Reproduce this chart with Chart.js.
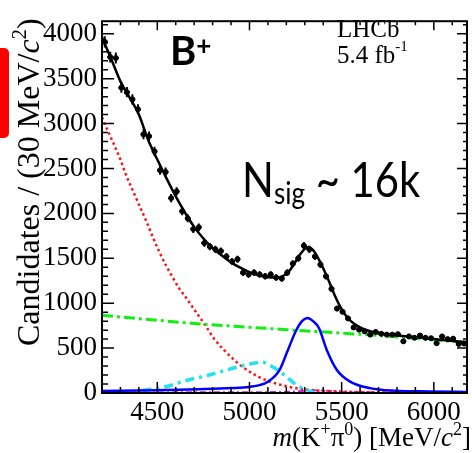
<!DOCTYPE html>
<html>
<head>
<meta charset="utf-8">
<script src="https://cdn.jsdelivr.net/npm/chart.js@4.4.1/dist/chart.umd.min.js"></script>
<style>
    html, body { margin: 0; padding: 0; background: #fff; }
    #wrap { position: relative; width: 472px; height: 453px; overflow: hidden; }
    #redTab { position: absolute; left: -6px; top: 48px; width: 15px; height: 90px; background: #ff0000; border-radius: 5px; }
</style>
</head>
<body>
<div id="wrap">
    <canvas id="massChart" width="472" height="453"></canvas>
    <div id="redTab"></div>
</div>
<script>
// m(K+ pi0) spectrum, 30 MeV bins
const binCenters = [4215, 4245, 4275, 4305, 4335, 4365, 4395, 4425, 4455, 4485,
    4515, 4545, 4575, 4605, 4635, 4665, 4695, 4725, 4755, 4785,
    4815, 4845, 4875, 4905, 4935, 4965, 4995, 5025, 5055, 5085,
    5115, 5145, 5175, 5205, 5235, 5265, 5295, 5325, 5355, 5385,
    5415, 5445, 5475, 5505, 5535, 5565, 5595, 5625, 5655, 5685,
    5715, 5745, 5775, 5805, 5835, 5865, 5895, 5925, 5955, 5985,
    6015, 6045, 6075, 6105, 6135, 6165];
const counts = [3910, 3740, 3730, 3400, 3350, 3270, 3160, 2880, 2860, 2690,
    2480, 2460, 2170, 2245, 2025, 1945, 1825, 1845, 1670, 1630,
    1600, 1580, 1520, 1465, 1490, 1340, 1320, 1340, 1320, 1300,
    1320, 1285, 1275, 1340, 1440, 1500, 1640, 1600, 1520, 1430,
    1300, 1160, 940, 905, 830, 730, 705, 687, 650, 680,
    660, 650, 650, 655, 575, 630, 615, 640, 615, 610,
    555, 630, 600, 605, 545, 550];
const countErrors = [63, 61, 61, 58, 58, 57, 56, 54, 53, 52,
    50, 50, 47, 47, 45, 44, 43, 43, 41, 40,
    40, 40, 39, 38, 39, 37, 36, 37, 36, 36,
    36, 36, 36, 37, 38, 39, 40, 40, 39, 38,
    36, 34, 31, 30, 29, 27, 27, 26, 25, 26,
    26, 25, 25, 26, 24, 25, 25, 25, 25, 25,
    24, 25, 24, 25, 23, 23];
const binHalfWidth = 15;

const xTickValues = [4500, 5000, 5500, 6000];
const yTickValues = [0, 500, 1000, 1500, 2000, 2500, 3000, 3500, 4000];

// fit components
const fitMass = [4200, 4250, 4300, 4350, 4400, 4450, 4500, 4550, 4600, 4650,
    4700, 4750, 4800, 4850, 4900, 4950, 5000, 5050, 5100, 5150,
    5180, 5210, 5240, 5270, 5300, 5320, 5345, 5370, 5400, 5430,
    5460, 5490, 5520, 5550, 5600, 5650, 5700, 5800, 5900, 6000,
    6100, 6180];
const fitTotal = [3960, 3720, 3470, 3290, 3100, 2820, 2600, 2390, 2190, 2010,
    1850, 1720, 1615, 1530, 1455, 1395, 1345, 1310, 1290, 1285,
    1300, 1345, 1430, 1530, 1605, 1625, 1590, 1510, 1390, 1250,
    1100, 970, 870, 800, 730, 690, 665, 640, 620, 600,
    580, 565];

const partRecoMass = [4200, 4225, 4260, 4300, 4330, 4370, 4400, 4440, 4475, 4510,
    4550, 4580, 4620, 4660, 4710, 4760, 4810, 4890, 4960, 5050,
    5140, 5225, 5315, 5440, 5600, 5800, 6000, 6180];
const partRecoVals = [3070, 2950, 2790, 2600, 2430, 2240, 2100, 1915, 1740, 1575,
    1410, 1300, 1160, 1050, 900, 755, 600, 420, 295, 180,
    108, 65, 36, 20, 10, 5, 3, 2];

const combMass = [4200, 4700, 5200, 5700, 6180];
const combVals = [865, 775, 705, 640, 562];

const cyanMass = [4420, 4550, 4650, 4780, 4900, 5010, 5065, 5127, 5190, 5243, 5296, 5350];
const cyanVals = [30, 72, 135, 200, 270, 326, 343, 290, 200, 108, 43, 5];

const signalMass = [4200, 4500, 4725, 4900, 5000, 5060, 5100, 5162, 5207, 5251,
    5285, 5314, 5345, 5377, 5421, 5475, 5546, 5653, 5796, 5973, 6180];
const signalVals = [22, 32, 43, 55, 68, 90, 126, 253, 470, 687,
    800, 835, 800, 723, 470, 253, 126, 54, 25, 17, 12];

const magMass = [4200, 4800, 5200, 5280, 5340, 5420, 5520, 5700, 6180];
const magVals = [5, 8, 12, 22, 30, 25, 12, 8, 5];

const SERIF = '"Liberation Serif", "Times New Roman", serif';
const SANS = 'Lato, "Open Sans", sans-serif';

function toPoints(xs, ys) {
    return xs.map((x, i) => ({ x: x, y: ys[i] }));
}

function curve(xs, ys, color, width, dash) {
    return {
        type: 'line',
        data: toPoints(xs, ys),
        borderColor: color,
        borderWidth: width,
        borderDash: dash || [],
        pointRadius: 0,
        fill: false,
        cubicInterpolationMode: 'monotone'
    };
}

// draw text made of several runs: [text, font, dy]; sx squeezes horizontally
function drawRuns(ctx, runs, x, y, align, sx) {
    sx = sx || 1;
    let total = 0;
    runs.forEach(r => { ctx.font = r[1]; total += ctx.measureText(r[0]).width; });
    ctx.save();
    ctx.translate(align === 'right' ? x - total * sx : x, y);
    ctx.scale(sx, 1);
    let cx = 0;
    runs.forEach(r => {
        ctx.font = r[1];
        ctx.fillText(r[0], cx, r[2] || 0);
        cx += ctx.measureText(r[0]).width;
    });
    ctx.restore();
}

// error bars for the data points
const errorBars = {
    id: 'errorBars',
    afterDatasetsDraw(chart) {
        const ctx = chart.ctx, xs = chart.scales.x, ys = chart.scales.y;
        ctx.save();
        ctx.strokeStyle = '#000';
        ctx.lineWidth = 2;
        binCenters.forEach((m, i) => {
            const px = xs.getPixelForValue(m), py = ys.getPixelForValue(counts[i]);
            ctx.beginPath();
            ctx.moveTo(px, ys.getPixelForValue(counts[i] - countErrors[i]));
            ctx.lineTo(px, ys.getPixelForValue(counts[i] + countErrors[i]));
            ctx.moveTo(xs.getPixelForValue(m - binHalfWidth), py);
            ctx.lineTo(xs.getPixelForValue(m + binHalfWidth), py);
            ctx.stroke();
        });
        ctx.restore();
    }
};

// ROOT style frame with inward ticks on all sides
const frameTicks = {
    id: 'frameTicks',
    afterDatasetsDraw(chart) {
        const ctx = chart.ctx, a = chart.chartArea, xs = chart.scales.x, ys = chart.scales.y;
        ctx.save();
        ctx.strokeStyle = '#000';
        ctx.lineWidth = 2;
        ctx.strokeRect(a.left, a.top, a.right - a.left, a.bottom - a.top);
        ctx.lineWidth = 1.5;
        ctx.beginPath();
        for (let v = 4300; v < 6180; v += 100) {
            const len = v % 500 === 0 ? 11 : 6;
            const px = xs.getPixelForValue(v);
            ctx.moveTo(px, a.bottom); ctx.lineTo(px, a.bottom - len);
            ctx.moveTo(px, a.top); ctx.lineTo(px, a.top + len - 2);
        }
        for (let v = 100; v < 4140; v += 100) {
            const len = v % 500 === 0 ? 12 : 6;
            const py = ys.getPixelForValue(v);
            ctx.moveTo(a.left, py); ctx.lineTo(a.left + len, py);
            ctx.moveTo(a.right, py); ctx.lineTo(a.right - len + 2, py);
        }
        ctx.stroke();
        ctx.restore();
    }
};

const annotations = {
    id: 'annotations',
    afterDraw(chart) {
        const ctx = chart.ctx;
        ctx.save();
        ctx.fillStyle = '#000';
        ctx.textBaseline = 'alphabetic';

        // axis titles
        drawRuns(ctx, [
            ['m', 'italic 27px ' + SERIF], ['(K', '27px ' + SERIF], ['+', '18px ' + SERIF, -11],
            ['\u03c0', '27px ' + SERIF], ['0', '18px ' + SERIF, -11], [') [MeV/', '27px ' + SERIF],
            ['c', 'italic 27px ' + SERIF], ['2', '18px ' + SERIF, -11], [']', '27px ' + SERIF]
        ], 471, 446, 'right');

        ctx.save();
        ctx.translate(39, 346);
        ctx.rotate(-Math.PI / 2);
        drawRuns(ctx, [
            ['Candidates / (30 MeV/', '32px ' + SERIF], ['c', 'italic 32px ' + SERIF],
            ['2', '21px ' + SERIF, -13], [')', '32px ' + SERIF]
        ], 0, 0, 'left');
        ctx.restore();

        // LHCb label
        drawRuns(ctx, [['LHCb', '25px ' + SERIF]], 337, 37, 'left');
        drawRuns(ctx, [['5.4 fb', '25px ' + SERIF], ['-1', '15px ' + SERIF, -12]], 337, 63, 'left');

        // B+ and yield
        drawRuns(ctx, [['B', 'bold 40px ' + SANS], ['+', 'bold 26px ' + SANS, -10]], 170, 65, 'left');
        drawRuns(ctx, [['N', '48px ' + SANS], ['sig', '30px ' + SANS, 7], [' ~ 16k', '48px ' + SANS]], 242, 197, 'left', 0.87);

        ctx.restore();
    }
};

const ctx = document.getElementById('massChart').getContext('2d');
const chart = new Chart(ctx, {
    type: 'scatter',
    data: {
        datasets: [
            {
                type: 'scatter',
                data: toPoints(binCenters, counts),
                pointRadius: 2.5,
                pointBackgroundColor: '#000',
                pointBorderColor: '#000',
                pointBorderWidth: 1
            },
            curve(fitMass, fitTotal, '#000000', 2.5),
            curve(signalMass, signalVals, '#0000ff', 2.5),
            curve(combMass, combVals, '#11ee11', 3, [11, 4, 3, 4]),
            curve(cyanMass, cyanVals, '#22e2f0', 3.5, [9, 5, 3, 5]),
            curve(partRecoMass, partRecoVals, '#ff1111', 2.5, [2.5, 3]),
            curve(magMass, magVals, '#cc22cc', 2, [6, 3, 2, 3])
        ]
    },
    options: {
        responsive: false,
        animation: false,
        layout: { padding: { top: 12, right: 2, left: 0, bottom: 0 } },
        plugins: {
            legend: { display: false },
            tooltip: { enabled: false }
        },
        scales: {
            x: {
                type: 'linear',
                min: 4200,
                max: 6180,
                afterFit: s => { s.height = 60; },
                afterBuildTicks: s => { s.ticks = xTickValues.map(v => ({ value: v })); },
                grid: { display: false, drawTicks: false },
                border: { display: false },
                ticks: {
                    autoSkip: false,
                    maxRotation: 0,
                    padding: 4,
                    color: '#000',
                    font: { family: SERIF, size: 27 },
                    callback: v => String(v)
                }
            },
            y: {
                type: 'linear',
                min: 0,
                max: 4140,
                afterFit: s => { s.width = 102; },
                afterBuildTicks: s => { s.ticks = yTickValues.map(v => ({ value: v })); },
                grid: { display: false, drawTicks: false },
                border: { display: false },
                ticks: {
                    autoSkip: false,
                    padding: 5,
                    color: '#000',
                    font: { family: SERIF, size: 27 },
                    callback: v => String(v)
                }
            }
        }
    },
    plugins: [errorBars, frameTicks, annotations]
});
</script>
</body>
</html>
